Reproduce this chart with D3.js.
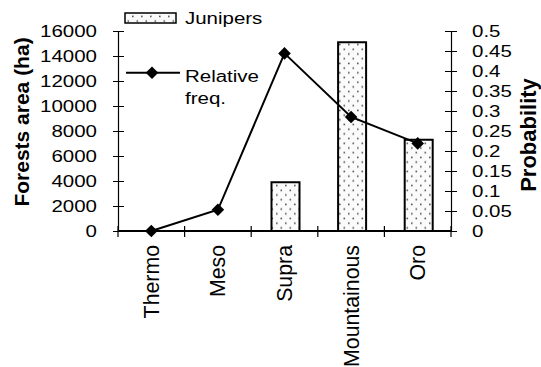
<!DOCTYPE html>
<html><head><meta charset="utf-8">
<script src="https://cdn.jsdelivr.net/npm/d3@7"></script>
<style>body{margin:0;background:#fff}svg{display:block}text{font-family:"Liberation Sans",Arial,sans-serif;fill:#000}</style>
</head><body><svg id="c" width="541" height="367"></svg>
<script>
const categories = ["Thermo","Meso","Supra","Mountainous","Oro"];
const junipers = [0, 0, 3900, 15100, 7300];
const relFreq = [0, 0.053, 0.444, 0.285, 0.219];
const leftTicks = [0,2000,4000,6000,8000,10000,12000,14000,16000];
const rightTicks = [0,0.05,0.1,0.15,0.2,0.25,0.3,0.35,0.4,0.45,0.5];
const rightTickLabels = ["0","0.05","0.1","0.15","0.2","0.25","0.3","0.35","0.4","0.45","0.5"];

const svg = d3.select("#c");
const SX = 1.28, FS = 16;
const x = d3.scaleBand().domain(categories).range([118, 451]);
const yL = d3.scaleLinear().domain([0,16000]).range([231, 31]);
const yR = d3.scaleLinear().domain([0,0.5]).range([231, 31]);

const defs = svg.append("defs");
const pat = defs.append("pattern").attr("id","dots").attr("patternUnits","userSpaceOnUse")
  .attr("width",9).attr("height",9.4);
pat.append("rect").attr("width",9).attr("height",9.4).attr("fill","#fbfbfb");
pat.append("rect").attr("x",1.5).attr("y",1.5).attr("width",1.6).attr("height",1.6).attr("fill","#555");
pat.append("rect").attr("x",6).attr("y",6.2).attr("width",1.6).attr("height",1.6).attr("fill","#555");

function stretchText(sel, anchor){
  sel.each(function(){
    const t = d3.select(this);
    const tx = +t.attr("x")||0;
    t.attr("x",0).attr("transform",`translate(${tx},0) scale(${SX},1)`)
     .style("font-size",FS+"px").attr("text-anchor",anchor);
  });
}

// bars
const bw = 28;
svg.append("g").selectAll("rect").data(categories.map((c,i)=>({c,v:junipers[i]})).filter(d=>d.v>0))
  .join("rect")
  .attr("x",d=>x(d.c)+x.bandwidth()/2-bw/2+1)
  .attr("y",d=>yL(d.v)).attr("width",bw).attr("height",d=>yL(0)-yL(d.v))
  .attr("fill","url(#dots)").attr("stroke","#000").attr("stroke-width",2);

// left axis
const gL = svg.append("g").attr("transform","translate(118,0)")
  .call(d3.axisLeft(yL).tickValues(leftTicks).tickFormat(d3.format("d")).tickSizeInner(5).tickSizeOuter(0).tickPadding(16));
gL.selectAll(".tick line").attr("x1",6);
gL.select(".domain").attr("stroke-width",1.2);
gL.selectAll(".tick text").call(stretchText,"end").attr("dy","0.35em");

// right axis
const gR = svg.append("g").attr("transform","translate(451,0)")
  .call(d3.axisRight(yR).tickValues(rightTicks).tickFormat((d,i)=>rightTickLabels[i]).tickSizeInner(6).tickSizeOuter(0).tickPadding(15));
gR.selectAll(".tick line").attr("x1",-6);
gR.select(".domain").attr("stroke-width",1.2);
gR.selectAll(".tick text").call(stretchText,"start").attr("dy","0.35em");

// x axis
const gX = svg.append("g").attr("transform","translate(0,231)");
gX.append("line").attr("x1",118).attr("x2",451).attr("stroke","#000").attr("stroke-width",1.8);
const bounds = categories.map(c=>x(c)).concat([x.range()[1]]);
gX.selectAll(".tk").data(bounds).join("line").attr("class","tk")
  .attr("x1",d=>d).attr("x2",d=>d).attr("y1",-5).attr("y2",6).attr("stroke","#000").attr("stroke-width",1.2);
gX.selectAll(".lb").data(categories).join("text").attr("class","lb")
  .attr("transform",d=>`translate(${x(d)+x.bandwidth()/2},14) rotate(-90)`)
  .attr("text-anchor","end").attr("dy","0.35em").style("font-size","21.3px").text(d=>d);

// line
const pts = categories.map((c,i)=>[x(c)+x.bandwidth()/2, yR(relFreq[i])]);
svg.append("path").attr("d",d3.line()(pts)).attr("fill","none").attr("stroke","#000").attr("stroke-width",2);
const diamond = s => `M0,${-s}L${s},0L0,${s}L${-s},0Z`;
svg.append("g").selectAll("path").data(pts).join("path")
  .attr("transform",d=>`translate(${d[0]},${d[1]})`).attr("d",diamond(6.3)).attr("fill","#000");

// axis titles
svg.append("text").attr("transform","translate(22,122) rotate(-90)").attr("text-anchor","middle")
  .attr("dy","0.35em").style("font-size","21px").style("font-weight","bold").text("Forests area (ha)");
svg.append("text").attr("transform","translate(528,135) rotate(-90)").attr("text-anchor","middle")
  .attr("dy","0.35em").style("font-size","22px").style("font-weight","bold").text("Probability");

// legend
const lg = svg.append("g");
lg.append("rect").attr("x",125).attr("y",13).attr("width",51).attr("height",10)
  .attr("fill","url(#dots)").attr("stroke","#000").attr("stroke-width",1.5);
lg.append("text").attr("transform",`translate(185,23.5) scale(${SX},1)`).style("font-size",FS+"px").text("Junipers");
lg.append("line").attr("x1",126).attr("x2",180).attr("y1",72.7).attr("y2",72.7).attr("stroke","#000").attr("stroke-width",2);
lg.append("path").attr("transform","translate(152,72.7)").attr("d",diamond(6.3)).attr("fill","#000");
lg.append("text").attr("transform",`translate(185,81.5) scale(${SX},1)`).style("font-size",FS+"px").text("Relative");
lg.append("text").attr("transform",`translate(185,103.5) scale(${SX},1)`).style("font-size",FS+"px").text("freq.");
</script></body></html>
